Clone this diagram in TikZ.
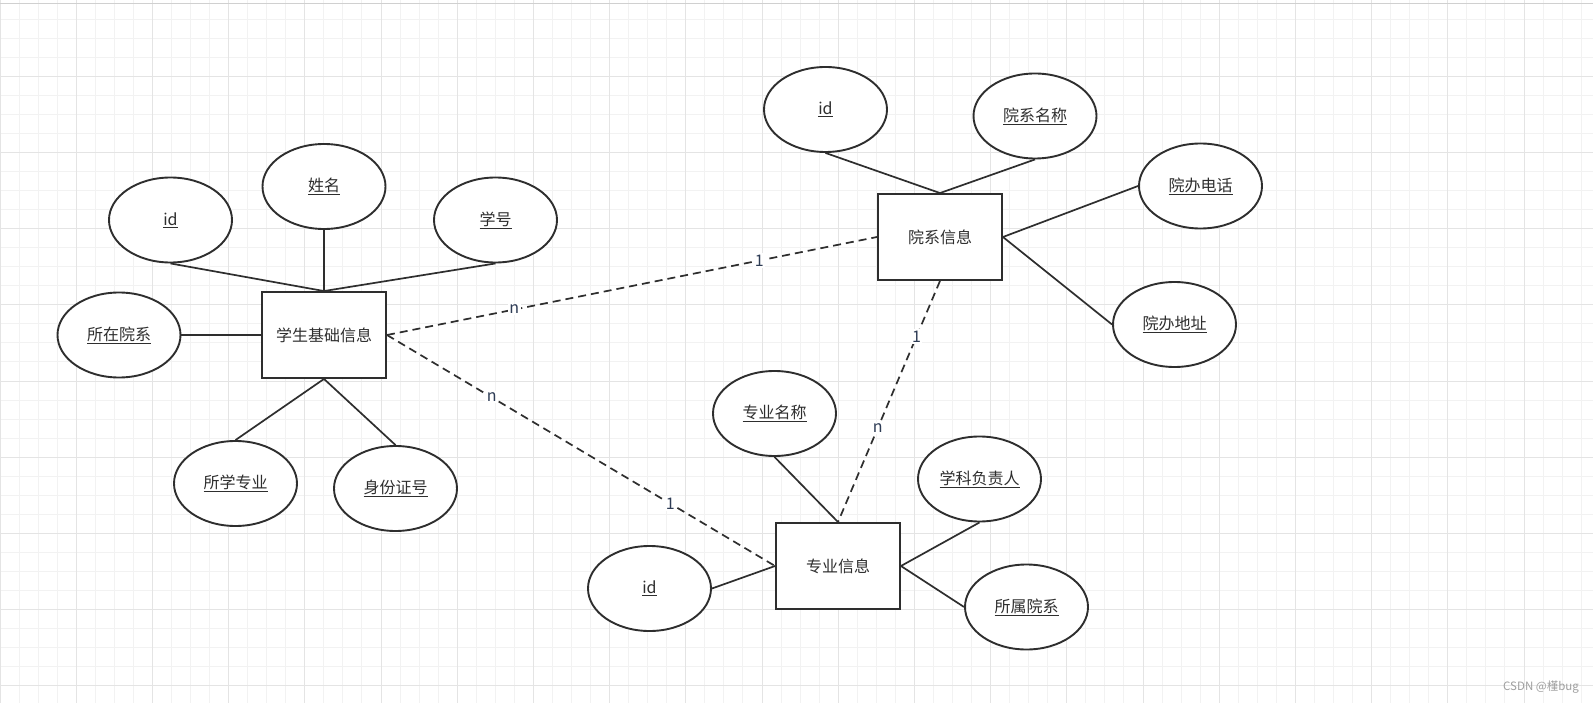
\documentclass[tikz,border=0pt]{standalone}
\usepackage{fontspec}
\setmainfont{Noto Sans CJK SC}
\usetikzlibrary{shapes.geometric}

\definecolor{ink}{HTML}{2E2E2E}
\definecolor{gridminor}{HTML}{F2F2F2}
\definecolor{gridmajor}{HTML}{E4E4E4}
\definecolor{tagcol}{HTML}{2E3C55}

\begin{document}
\begin{tikzpicture}[x=1pt, y=-1pt, line width=1.7pt, ink,
    attr/.style={ellipse, draw, fill=white, line width=1.9pt, minimum width=123pt,
        minimum height=85pt, inner sep=0pt, font=\fontsize{16}{19}\selectfont},
    ent/.style={rectangle, draw, fill=white, line width=1.9pt, minimum width=124pt,
        minimum height=86pt, inner sep=0pt, font=\fontsize{16}{19}\selectfont},
    rel/.style={dash pattern=on 8pt off 5pt},
    card/.style={fill=white, inner sep=1.5pt, text=tagcol, font=\fontsize{16}{19}\selectfont}]
\useasboundingbox (0,0) rectangle (1593,703);
\fill[white] (0,0) rectangle (1593,703);

% background grid
\foreach \i in {0,...,83} \draw[gridminor, line width=1pt] ({19.05*\i},0) -- ({19.05*\i},703);
\foreach \j in {0,...,36} \draw[gridminor, line width=1pt] (0,{19.05*\j}) -- (1593,{19.05*\j});
\foreach \i in {0,...,20} \draw[gridmajor, line width=1pt] ({76.2*\i},0) -- ({76.2*\i},703);
\foreach \j in {0,...,9} \draw[gridmajor, line width=1pt] (0,{76.2*\j}) -- (1593,{76.2*\j});
\draw[gridmajor!80!gray, line width=1.5pt] (0,3.5) -- (1593,3.5);

% entities
\node[ent] (stu) at (324,335) {学生基础信息};
\node[ent] (dept) at (940,237) {院系信息};
\node[ent] (major) at (838,566) {专业信息};

% attributes
\foreach \n/\x/\y/\t in {
    sid/170.5/220/id,
    sname/324/186.5/姓名,
    sno/495.5/220/学号,
    sdept/119/335/所在院系,
    smajor/235.5/483.5/所学专业,
    scard/395.5/488.5/身份证号,
    did/825.5/109.5/id,
    dname/1035/116/院系名称,
    dtel/1200.5/186/院办电话,
    daddr/1174.5/324.5/院办地址,
    mname/774.5/413.5/专业名称,
    mhead/979.5/479/学科负责人,
    mid/649.5/588.5/id,
    mdept/1026.5/607/所属院系} {
    \node[attr] (\n) at (\x,\y) {\underline{\t}};
}

% attribute links
\foreach \a/\b in {
    sid.south/stu.north, sname.south/stu.north, sno.south/stu.north,
    sdept.east/stu.west, stu.south/smajor.north, stu.south/scard.north,
    did.south/dept.north, dname.south/dept.north,
    dept.east/dtel.west, dept.east/daddr.west,
    mname.south/major.north, major.east/mhead.south,
    mid.east/major.west, major.east/mdept.west} {
    \draw (\a) -- (\b);
}

% relations
\draw[rel] (stu.east) -- node[card, pos=0.26]{n} node[card, pos=0.76]{1} (dept.west);
\draw[rel] (stu.east) -- node[card, pos=0.27]{n} node[card, pos=0.73]{1} (major.west);
\draw[rel] (dept.south) -- node[card, pos=0.23]{1} node[card, pos=0.61]{n} (major.north);

\node[text=gray!75, font=\fontsize{11.5}{13}\selectfont] (mark) at (1541,687) {CSDN @槿bug};
\end{tikzpicture}
\end{document}
